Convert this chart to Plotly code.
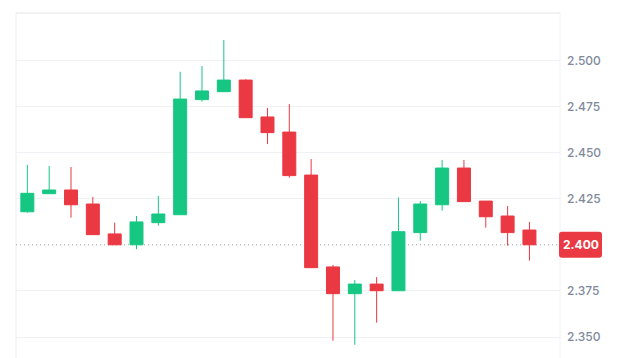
import plotly.graph_objects as go

# OHLC values
opens  = [2.4179, 2.4277, 2.4297, 2.4221, 2.4059, 2.4000, 2.4120, 2.4163,
          2.4787, 2.4830, 2.4893, 2.4693, 2.4611, 2.4378, 2.4880, 2.3735,
          2.3787, 2.3751, 2.4066, 2.4217, 2.4416, 2.4237, 2.4156, 2.4080]
highs  = [2.4433, 2.4427, 2.4422, 2.4259, 2.4120, 2.4156, 2.4265, 2.4938,
          2.4969, 2.5110, 2.4897, 2.4742, 2.4763, 2.4465, 2.3891, 2.3809,
          2.3825, 2.4257, 2.4237, 2.4460, 2.4460, 2.4237, 2.4210, 2.4124]
lows   = [2.4174, 2.4275, 2.4147, 2.4055, 2.4000, 2.3976, 2.4104, 2.4163,
          2.4776, 2.4830, 2.4689, 2.4546, 2.4364, 2.3876, 2.3480, 2.3458,
          2.3578, 2.3751, 2.4022, 2.4185, 2.4234, 2.4093, 2.3995, 2.3914]
closes = [2.4279, 2.4297, 2.4217, 2.4055, 2.4000, 2.4124, 2.4167, 2.4790,
          2.4834, 2.4893, 2.4689, 2.4608, 2.4375, 2.3876, 2.3735, 2.3787,
          2.3751, 2.4071, 2.4221, 2.4416, 2.4234, 2.4152, 2.4066, 2.4000]
# fix candle 15 open (red candle opening at top of body)
opens[14] = 2.3880

periods = list(range(len(opens)))
tick_values = [2.350, 2.375, 2.425, 2.450, 2.475, 2.500]
tick_labels = ["2.350", "2.375", "2.425", "2.450", "2.475", "2.500"]
last_label = "2.400"

GREEN = "#16c784"
RED = "#ea3943"

y_min, y_max = 2.33863, 2.52566
last = closes[-1]

fig = go.Figure(go.Candlestick(
    x=periods, open=opens, high=highs, low=lows, close=closes,
    increasing=dict(line=dict(color=GREEN, width=1), fillcolor=GREEN),
    decreasing=dict(line=dict(color=RED, width=1), fillcolor=RED),
    whiskerwidth=0,
    hoverinfo="skip",
))

last_paper = (last - y_min) / (y_max - y_min)
r = 3
x0, x1, h = -1, 42, 13
box_path = (f"M {x0+r},{-h} L {x1-r},{-h} Q {x1},{-h} {x1},{-h+r} "
            f"L {x1},{h-r} Q {x1},{h} {x1-r},{h} L {x0+r},{h} "
            f"Q {x0},{h} {x0},{h-r} L {x0},{-h+r} Q {x0},{-h} {x0+r},{-h} Z")

fig.update_layout(
    width=622, height=358,
    margin=dict(l=16, r=62, t=13, b=0),
    paper_bgcolor="white", plot_bgcolor="white",
    showlegend=False,
    boxgap=0.3, boxgroupgap=0.15,
    xaxis=dict(range=[-0.52, 24.4], visible=False, rangeslider=dict(visible=False),
               fixedrange=True),
    yaxis=dict(range=[y_min, y_max], side="right", tickvals=tick_values,
               ticktext=tick_labels, showgrid=True, gridcolor="#eff1f4",
               gridwidth=1, zeroline=False, showline=False, ticks="",
               ticklabelstandoff=6,
               tickfont=dict(family="Inter", size=12, color="#808a9d", weight=500)),
    shapes=[
        dict(type="line", xref="paper", yref="paper", x0=0, x1=0, y0=0, y1=1,
             line=dict(color="#eceef2", width=1), layer="below"),
        dict(type="line", xref="paper", yref="paper", x0=0, x1=1, y0=1, y1=1,
             line=dict(color="#e3e5e9", width=1), layer="below"),
        dict(type="line", xref="paper", yref="paper", x0=1, x1=1, y0=0, y1=1,
             line=dict(color="#f1f2f5", width=1), layer="below"),
        dict(type="line", xref="paper", yref="y", x0=0, x1=1, y0=last, y1=last,
             line=dict(color="#9aa1ad", width=1, dash="1px,3px"), layer="below"),
        dict(type="path", xref="paper", yref="paper", xsizemode="pixel",
             ysizemode="pixel", xanchor=1, yanchor=last_paper, path=box_path,
             fillcolor=RED, line=dict(width=0), layer="above"),
    ],
    annotations=[
        dict(xref="paper", yref="paper", x=1, y=last_paper, xshift=20.5,
             text=last_label, showarrow=False, xanchor="center", yanchor="middle",
             font=dict(family="Inter", size=12, color="white", weight=700)),
    ],
)

fig.write_html("out.html")
